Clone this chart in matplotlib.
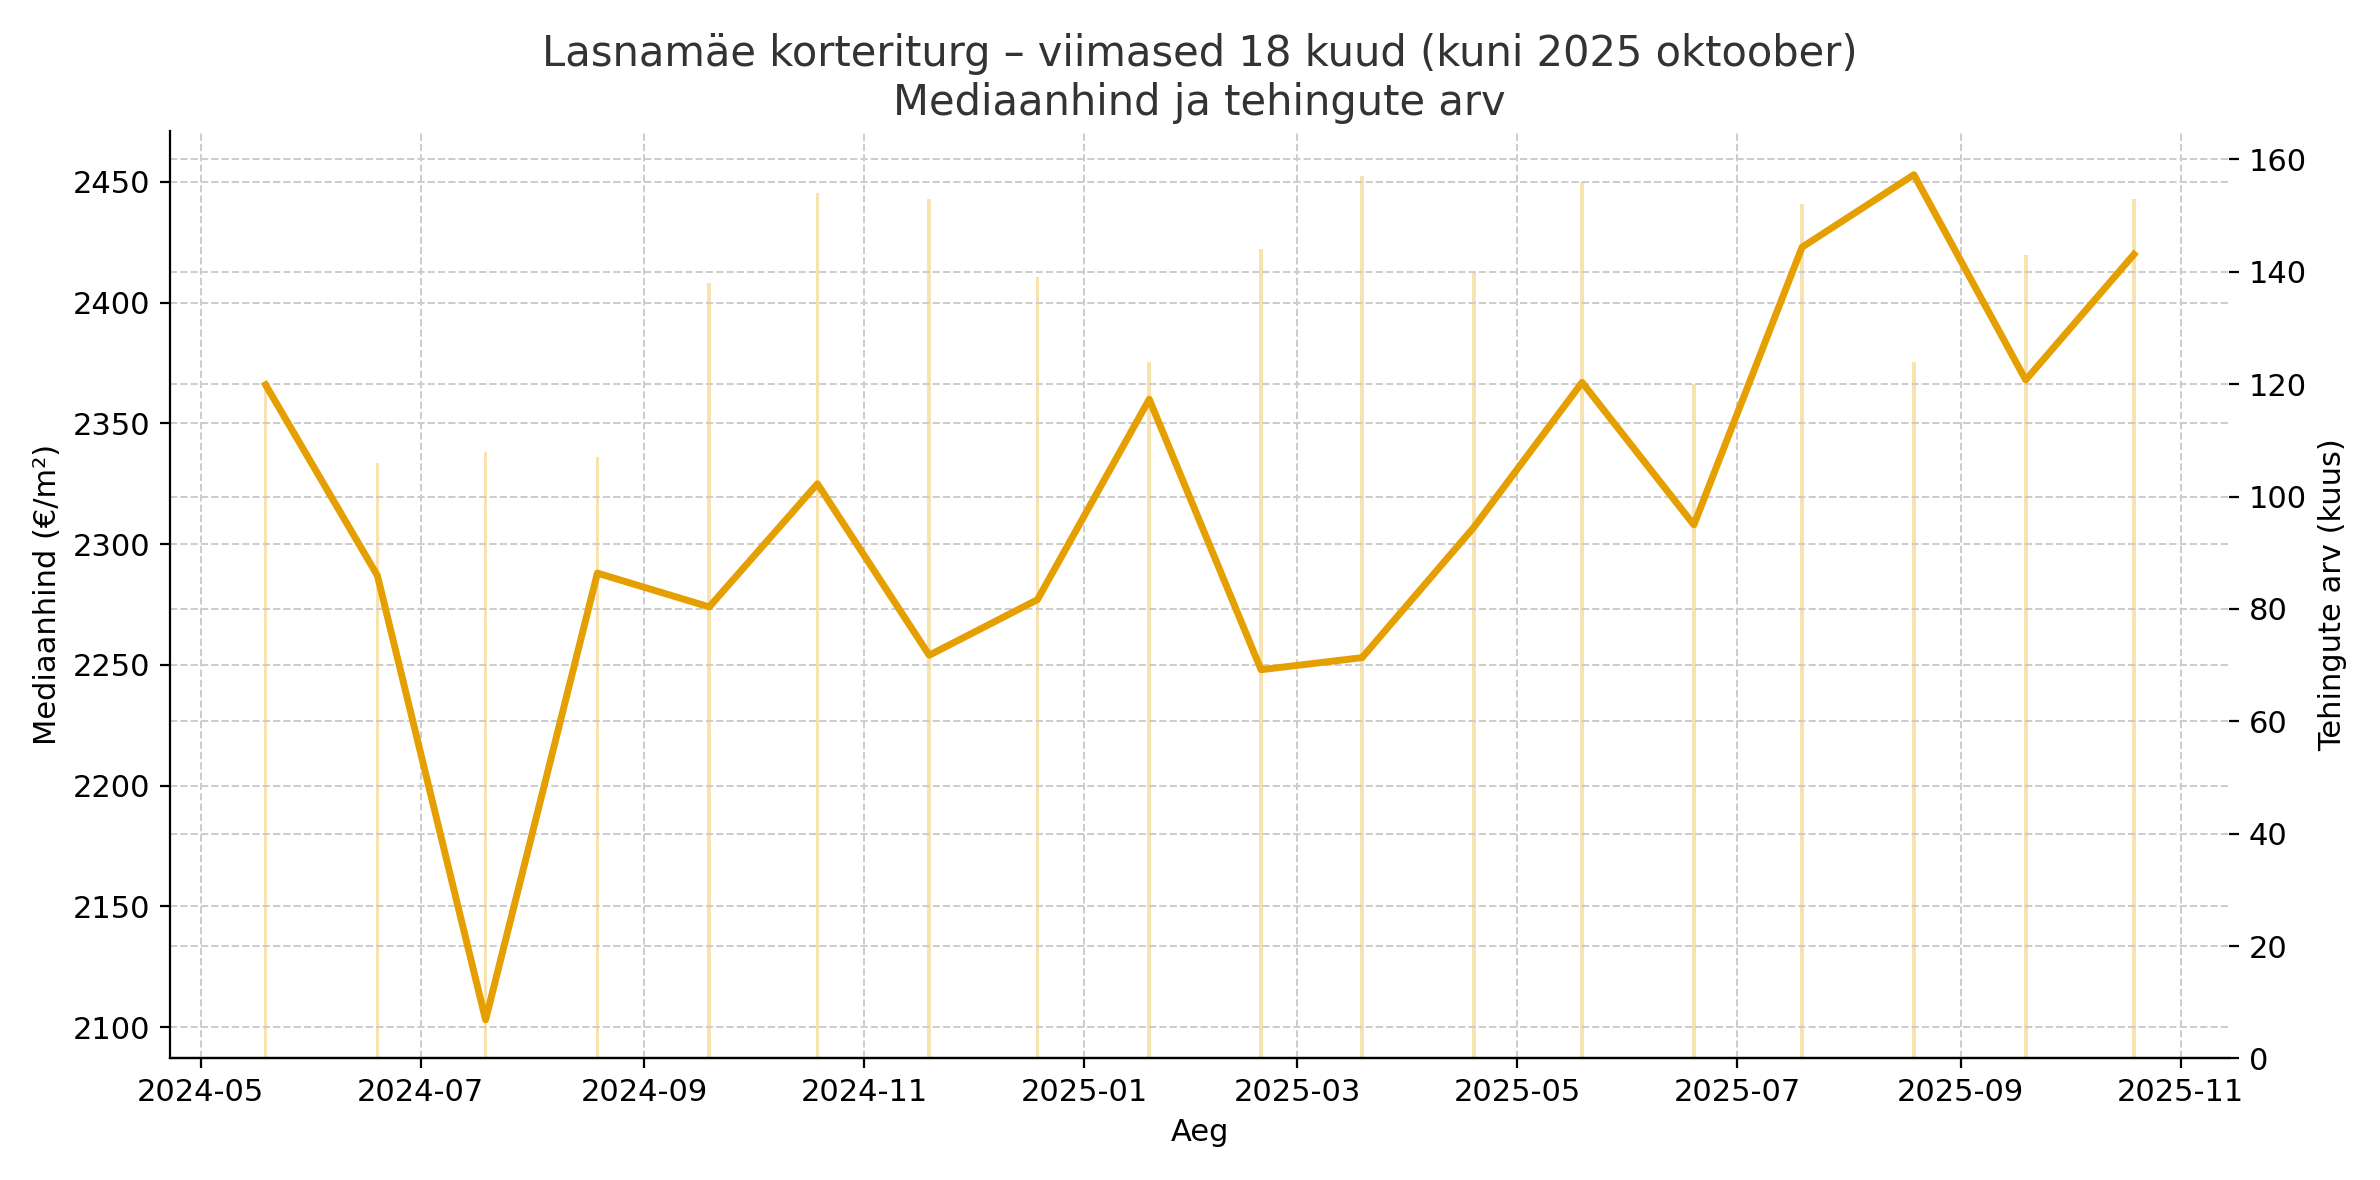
import matplotlib.pyplot as plt
import matplotlib.dates as mdates
import pandas as pd

dates = pd.to_datetime([
    "2024-05-19", "2024-06-19", "2024-07-19", "2024-08-19", "2024-09-19", "2024-10-19",
    "2024-11-19", "2024-12-19", "2025-01-19", "2025-02-19", "2025-03-19", "2025-04-19",
    "2025-05-19", "2025-06-19", "2025-07-19", "2025-08-19", "2025-09-19", "2025-10-19",
])
price = [2366, 2287, 2103, 2288, 2274, 2325, 2254, 2277, 2360, 2248,
         2253, 2307, 2367, 2308, 2423, 2453, 2368, 2420]
deals = [120, 106, 108, 107, 138, 154, 153, 139, 124, 144,
         157, 140, 156, 120, 152, 124, 143, 153]

color = "#E69F00"
plt.rcParams["font.size"] = 11

fig, ax = plt.subplots(figsize=(11.9, 5.9), dpi=200)
ax2 = ax.twinx()
ax2.bar(dates, deals, width=1.0, color=color, alpha=0.3, zorder=1)
ax2.set_ylim(0, 165)
ax2.set_ylabel("Tehingute arv (kuus)")

ax.set_zorder(ax2.get_zorder() + 1)
ax.patch.set_visible(False)
ax.plot(dates, price, color=color, lw=2.5, zorder=3)
ax.set_ylim(2087, 2471)
ax.set_ylabel("Mediaanhind (€/m²)")
ax.set_xlabel("Aeg")
ax.set_title("Lasnamäe korteriturg – viimased 18 kuud (kuni 2025 oktoober)\nMediaanhind ja tehingute arv",
             fontsize=15, color="#333333")

ax.grid(True, linestyle="--", color="#cccccc", lw=0.7)
ax2.grid(True, axis="y", linestyle="--", color="#cccccc", lw=0.7)
for a in (ax, ax2):
    a.spines["top"].set_visible(False)
ax.spines["right"].set_visible(False)
ax2.spines["right"].set_visible(False)
ax2.spines["left"].set_visible(False)

ax.xaxis.set_major_locator(mdates.MonthLocator(bymonth=[1, 3, 5, 7, 9, 11]))
ax.xaxis.set_major_formatter(mdates.DateFormatter("%Y-%m"))

fig.tight_layout()
fig.savefig("out.png", dpi=200)
